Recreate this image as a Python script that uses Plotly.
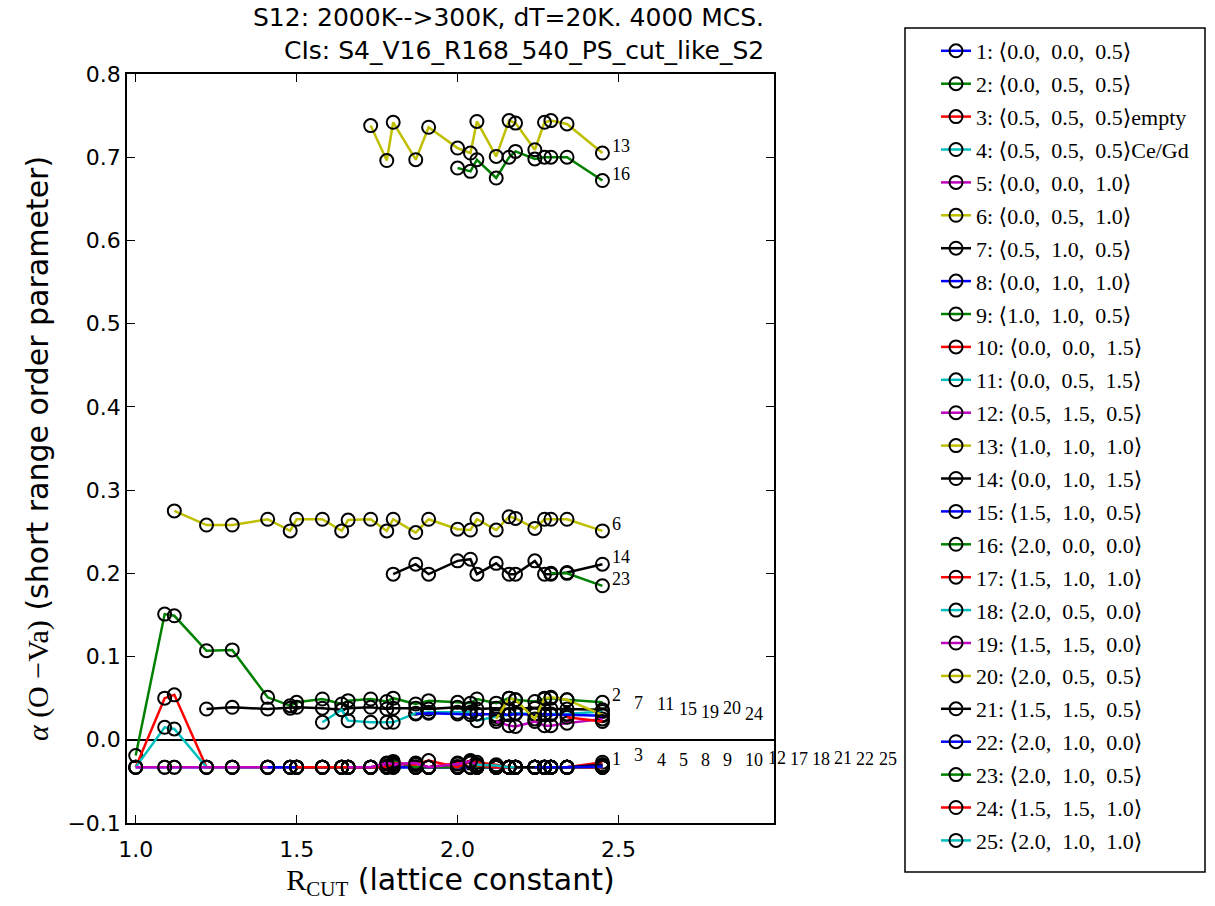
import plotly.graph_objects as go

# Cut-off radii (lattice constants) at which the SRO parameters were evaluated
RCUT = [1.00, 1.09, 1.12, 1.22, 1.30, 1.41, 1.48, 1.50, 1.58, 1.64, 1.66, 1.73, 1.78, 1.80,
        1.87, 1.91, 2.00, 2.04, 2.06, 2.12, 2.16, 2.18, 2.24, 2.27, 2.29, 2.34, 2.45]

# Neighbour shells
SHELLS = ["⟨0.0, 0.0, 0.5⟩", "⟨0.0, 0.5, 0.5⟩", "⟨0.5, 0.5, 0.5⟩", "⟨0.5, 0.5, 0.5⟩",
          "⟨0.0, 0.0, 1.0⟩", "⟨0.0, 0.5, 1.0⟩", "⟨0.5, 1.0, 0.5⟩", "⟨0.0, 1.0, 1.0⟩",
          "⟨1.0, 1.0, 0.5⟩", "⟨0.0, 0.0, 1.5⟩", "⟨0.0, 0.5, 1.5⟩", "⟨0.5, 1.5, 0.5⟩",
          "⟨1.0, 1.0, 1.0⟩", "⟨0.0, 1.0, 1.5⟩", "⟨1.5, 1.0, 0.5⟩", "⟨2.0, 0.0, 0.0⟩",
          "⟨1.5, 1.0, 1.0⟩", "⟨2.0, 0.5, 0.0⟩", "⟨1.5, 1.5, 0.0⟩", "⟨2.0, 0.5, 0.5⟩",
          "⟨1.5, 1.5, 0.5⟩", "⟨2.0, 1.0, 0.0⟩", "⟨2.0, 1.0, 0.5⟩", "⟨1.5, 1.5, 1.0⟩",
          "⟨2.0, 1.0, 1.0⟩"]
SHELL_NOTE = {3: "empty", 4: "Ce/Gd"}
# first index into RCUT at which each shell lies inside the cut
START = [0, 0, 0, 0, 0, 2, 3, 5, 7, 7, 8, 10, 11, 13, 14, 16, 18, 18, 19, 19, 21, 22, 24, 25, 26]

# alpha(O-Va) per shell, one value per R_CUT from START onwards
s01 = [-0.033, -0.033, -0.033, -0.033, -0.033, -0.033, -0.033, -0.033, -0.033, -0.033, -0.033, -0.033, -0.032, -0.033,
       -0.033, -0.033, -0.032, -0.033, -0.033, -0.033, -0.033, -0.033, -0.033, -0.033, -0.033, -0.033, -0.031]
s02 = [-0.019, 0.151, 0.149, 0.107, 0.108, 0.051, 0.041, 0.045, 0.049, 0.043, 0.047, 0.049, 0.046, 0.050,
       0.043, 0.047, 0.045, 0.044, 0.049, 0.044, 0.050, 0.048, 0.046, 0.049, 0.050, 0.048, 0.045]
s03 = [-0.033, 0.050, 0.054, -0.033, -0.033, -0.033, -0.033, -0.033, -0.033, -0.033, -0.033, -0.033, -0.032, -0.032,
       -0.033, -0.033, -0.028, -0.028, -0.030, -0.033, -0.033, -0.033, -0.033, -0.033, -0.033, -0.033, -0.027]
s04 = [-0.033, 0.015, 0.013, -0.033, -0.033, -0.033, -0.033, -0.033, -0.033, -0.033, -0.033, -0.033, -0.033, -0.033,
       -0.033, -0.033, -0.033, -0.033, -0.033, -0.033, -0.033, -0.033, -0.033, -0.033, -0.033, -0.033, -0.033]
s05 = [-0.033, -0.033, -0.033, -0.033, -0.033, -0.033, -0.033, -0.033, -0.033, -0.033, -0.033, -0.033, -0.029, -0.030,
       -0.029, -0.033, -0.033, -0.033, -0.033, -0.033, -0.033, -0.033, -0.033, -0.033, -0.033, -0.033, -0.033]
s06 = [0.275, 0.258, 0.258, 0.265, 0.251, 0.265, 0.265, 0.251, 0.264, 0.265, 0.251, 0.265, 0.249, 0.265,
       0.253, 0.252, 0.265, 0.252, 0.268, 0.266, 0.254, 0.265, 0.265, 0.265, 0.251]
s07 = [0.037, 0.039, 0.037, 0.038, 0.039, 0.038, 0.036, 0.038, 0.039, 0.037, 0.038, 0.038, 0.037, 0.039,
       0.038, 0.037, 0.038, 0.037, 0.038, 0.038, 0.036, 0.037, 0.037, 0.036]
s08 = [-0.033, -0.033, -0.033, -0.033, -0.033, -0.033, -0.033, -0.033, -0.033, -0.033, -0.033, -0.033, -0.033, -0.033,
       -0.033, -0.033, -0.033, -0.033, -0.033, -0.033, -0.033, -0.033]
s09 = [-0.033, -0.033, -0.033, -0.033, -0.033, -0.033, -0.026, -0.033, -0.033, -0.033, -0.026, -0.033, -0.033, -0.033,
       -0.033, -0.033, -0.033, -0.033, -0.033, -0.033]
s10 = [-0.033, -0.033, -0.033, -0.033, -0.033, -0.033, -0.028, -0.030, -0.025, -0.033, -0.025, -0.027, -0.030, -0.033,
       -0.033, -0.033, -0.033, -0.033, -0.033, -0.033]
s11 = [0.021, 0.036, 0.023, 0.021, 0.021, 0.021, 0.032, 0.033, 0.033, 0.033, 0.023, 0.028, 0.030, 0.032,
       0.031, 0.030, 0.031, 0.031, 0.034]
s12 = [-0.033, -0.033, -0.028, -0.029, -0.028, -0.033, -0.029, -0.026, -0.030, -0.033, -0.033, -0.033, -0.033, -0.033,
       -0.033, -0.033, -0.030]
s13 = [0.738, 0.696, 0.742, 0.697, 0.736, 0.711, 0.705, 0.743, 0.701, 0.744, 0.741, 0.709, 0.742, 0.744,
       0.740, 0.705]
s14 = [0.199, 0.211, 0.199, 0.215, 0.217, 0.199, 0.212, 0.199, 0.199, 0.215, 0.199, 0.199, 0.201, 0.211]
s15 = [0.031, 0.032, 0.031, 0.030, 0.031, 0.030, 0.030, 0.031, 0.030, 0.031, 0.030, 0.030, 0.029]
s16 = [0.687, 0.683, 0.697, 0.675, 0.700, 0.707, 0.698, 0.700, 0.700, 0.700, 0.672]
s17 = [-0.031, -0.033, -0.033, -0.033, -0.033, -0.033, -0.033, -0.033, -0.032]
s18 = [-0.030, -0.031, -0.033, -0.033, -0.033, -0.033, -0.033, -0.033, -0.032]
s19 = [0.022, 0.017, 0.016, 0.022, 0.017, 0.017, 0.020, 0.025]
s20 = [0.025, 0.050, 0.048, 0.025, 0.050, 0.051, 0.048, 0.030]
s21 = [-0.033, -0.033, -0.033, -0.033, -0.033, -0.030]
s22 = [-0.033, -0.033, -0.033, -0.033, -0.032]
s23 = [0.200, 0.200, 0.185]
s24 = [0.027, 0.022]
s25 = [-0.032]

SERIES = [s01, s02, s03, s04, s05, s06, s07, s08, s09, s10, s11, s12, s13,
          s14, s15, s16, s17, s18, s19, s20, s21, s22, s23, s24, s25]

TITLE_1 = "S12: 2000K-->300K, dT=20K. 4000 MCS."
TITLE_2 = "CIs: S4_V16_R168_540_PS_cut_like_S2"

# matplotlib "classic" colour cycle b g r c m y k
CYCLE = ["#0000ff", "#008000", "#ff0000", "#00bfbf", "#bf00bf", "#bfbf00", "#000000"]

SERIF = "Liberation Serif, DejaVu Serif, serif"
SANS = "DejaVu Sans, sans-serif"
NB = "\u00a0"

# page geometry (px)
W, H = 1215, 906
ML, MR, MT, MB = 127, 10, 74, 83
AX_RIGHT = 774                      # right edge of the data axes
paper_w = W - ML - MR
paper_h = H - MT - MB
dom_end = (AX_RIGHT - ML) / paper_w
XR = [0.973, 2.983]
YR = [-0.1, 0.8]


def px_x(p):
    return (p - ML) / paper_w


def px_y(p):
    return (H - MB - p) / paper_h


fig = go.Figure()

for i, vals in enumerate(SERIES):
    n = i + 1
    xs = RCUT[START[i]:START[i] + len(vals)]
    shell = SHELLS[i].replace(", ", "," + NB + NB)
    name = f"{n}:{NB}{shell}"
    if n in SHELL_NOTE:
        name += f"<span style='font-family:Liberation Serif'>{SHELL_NOTE[n]}</span>"
    fig.add_trace(go.Scatter(
        x=xs, y=vals, mode="lines+markers", name=name, legendgroup=str(n),
        line=dict(color=CYCLE[i % len(CYCLE)], width=2.5),
        marker=dict(symbol="circle-open", size=13, color="black", line=dict(width=2)),
    ))

# series number written beyond the last point, staggered where ends coincide
last = [(RCUT[START[i] + len(v) - 1], v[-1]) for i, v in enumerate(SERIES)]
annotations = []
for i, (xl, yl) in enumerate(last):
    k = sum(1 for j in range(i) if abs(last[j][1] - yl) < 0.025)
    annotations.append(dict(
        x=xl + 0.024 + 0.069 * k, y=yl, xref="x2", yref="y2", text=str(i + 1),
        showarrow=False, xanchor="left", yanchor="middle", yshift=7,
        font=dict(family=SERIF, size=18, color="black"),
    ))

# two-line title, right edges aligned
for txt, yc in ((TITLE_1, 18), (TITLE_2, 50)):
    annotations.append(dict(
        text=txt, xref="paper", yref="paper", x=px_x(766), y=px_y(yc),
        xanchor="right", yanchor="middle", showarrow=False,
        font=dict(family=SANS, size=25, color="black"),
    ))

axis_common = dict(
    showgrid=False, showline=True, linecolor="black", linewidth=1.5, mirror="ticks",
    ticks="inside", ticklen=8, tickwidth=1, tickcolor="black",
    tickfont=dict(family=SANS, size=22, color="black"),
)

fig.update_xaxes(domain=[0, dom_end], range=XR,
                 tickvals=[1.0, 1.5, 2.0, 2.5], ticktext=["1.0", "1.5", "2.0", "2.5"],
                 zeroline=False, ticklabelstandoff=6,
                 title=dict(text=f"<span style='font-family:{SERIF}'>R<sub>CUT</sub></span> (lattice constant)",
                            font=dict(family=SANS, size=30, color="black"), standoff=6),
                 **axis_common)
fig.update_yaxes(range=YR, tickvals=[-0.1, 0, 0.1, 0.2, 0.3, 0.4, 0.5, 0.6, 0.7, 0.8],
                 ticktext=["\u22120.1", "0.0", "0.1", "0.2", "0.3", "0.4", "0.5", "0.6", "0.7", "0.8"],
                 zeroline=True, zerolinecolor="black", zerolinewidth=1.5,
                 title=dict(text=f"<span style='font-family:{SERIF}'><i>α</i>{NB}(O{NB}\u2212Va)</span> (short range order parameter)",
                            font=dict(family=SANS, size=30, color="black"), standoff=10),
                 **axis_common)

# hidden axes with the same scale, spanning the whole page width, for the end labels
fig.update_layout(
    xaxis2=dict(domain=[0, 1], anchor="y2", visible=False,
                range=[XR[0], XR[0] + (XR[1] - XR[0]) / dom_end]),
    yaxis2=dict(domain=[0, 1], anchor="x2", visible=False, range=YR, zeroline=False),
)

fig.update_layout(
    width=W, height=H,
    margin=dict(l=ML, r=MR, t=MT, b=MB),
    paper_bgcolor="white", plot_bgcolor="rgba(0,0,0,0)",
    legend=dict(x=px_x(936), xanchor="left", y=px_y(30), yanchor="top", maxheight=900,
                font=dict(family=SERIF, size=22, color="black"),
                tracegroupgap=1.3, bgcolor="rgba(0,0,0,0)", borderwidth=0),
    shapes=[dict(type="rect", xref="paper", yref="paper", x0=px_x(905), x1=px_x(1205),
                 y0=px_y(872), y1=px_y(28), line=dict(color="black", width=1.5))],
    annotations=annotations,
    showlegend=True,
)

fig.write_html("out.html")
